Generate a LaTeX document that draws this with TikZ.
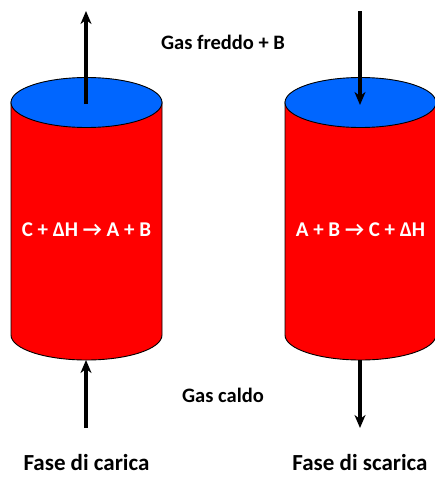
\documentclass[tikz,border=0pt]{standalone}
\usepackage{fontspec}
\setmainfont{Carlito}
\usepackage{tikz}
\usetikzlibrary{arrows.meta, positioning}
\definecolor{cylred}{RGB}{255,0,0}
\definecolor{capblue}{RGB}{0,102,255}
\tikzset{
  cylside/.style={fill=cylred, draw=black, line width=0.9pt},
  cyltop/.style={fill=capblue, draw=black, line width=0.9pt},
  flow/.style={-{Stealth[length=13pt, width=11pt, inset=4pt]}, line width=3.6pt, color=black},
  lbl/.style={font=\bfseries\fontsize{20.5}{24}\selectfont, inner sep=0pt},
  phase/.style={font=\bfseries\fontsize{23}{27}\selectfont, inner sep=0pt},
  react/.style={font=\bfseries\fontsize{21}{25}\selectfont, text=white, inner sep=0pt}
}

\begin{document}
\begin{tikzpicture}[x=1pt, y=-1pt]
  \useasboundingbox (0,0) rectangle (435,477);

  % Draw cylinders
  \foreach \cx in {86.5, 360.5} {
    \draw[cylside] (\cx-75.5,102) -- (\cx-75.5,335)
      arc[start angle=180, end angle=0, x radius=75.5, y radius=25]
      -- (\cx+75.5,102) -- cycle;
    \draw[cyltop] (\cx,102.5) ellipse [x radius=75.5, y radius=25];
  }

  % Flow coordinates
  \coordinate (ltop) at (86,104);
  \coordinate (lout) at (86,11);
  \coordinate (lin) at (86,428);
  \coordinate (lbot) at (86,360);
  \coordinate (rin) at (360,11);
  \coordinate (rtop) at (360,105);
  \coordinate (rbot) at (360,360);
  \coordinate (rout) at (360,428);

  % Arrows
  \draw[flow] (ltop) -- (lout);
  \draw[flow] (lin) -- (lbot);
  \draw[flow] (rin) -- (rtop);
  \draw[flow] (rbot) -- (rout);

  % Labels
  \node[lbl] (cold) at (223,42) {Gas freddo + B};
  \node[lbl] (hot) at (223,395) {Gas caldo};
  \node[react] (charge) at (86.5,230) {C + ΔH → A + B};
  \node[react] (discharge) at (360.5,230) {A + B → C + ΔH};
  \node[phase] (fcar) at (86.5,463) {Fase di carica};
  \node[phase] (fscar) at (360,463) {Fase di scarica};

\end{tikzpicture}
\end{document}
